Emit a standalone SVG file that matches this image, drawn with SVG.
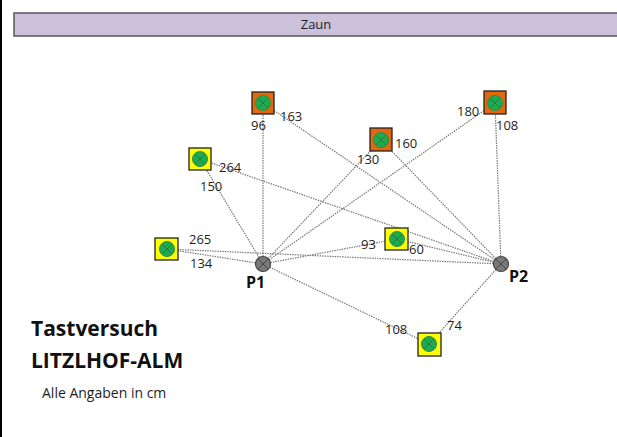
<svg xmlns="http://www.w3.org/2000/svg" width="617" height="437" viewBox="0 0 617 437">
  <style>
    .lbl { font-family: "Open Sans", "Liberation Sans", sans-serif; font-size: 13px; fill: #1e1e1e; }
    .bold { font-family: "Open Sans", "Liberation Sans", sans-serif; font-weight: bold; fill: #111; }
    .conn line { stroke: #7a7a7a; stroke-width: 1.2; stroke-dasharray: 1.5 1; }
    .orange { fill: #e2680f; stroke: #222; stroke-width: 1.3; }
    .yellow { fill: #ffff00; stroke: #222; stroke-width: 1.3; }
  </style>
  <defs>
    <g id="probe">
      <circle r="7.5" fill="#1faa50" stroke="#2e8a46" stroke-width="1"/>
      <path d="M-5,-5 L5,5 M5,-5 L-5,5" stroke="#1f7a3c" stroke-width="0.9"/>
    </g>
    <g id="station">
      <circle r="7.5" fill="#7a7a7a" stroke="#444" stroke-width="1.2"/>
      <path d="M-5,-5 L5,5 M5,-5 L-5,5" stroke="#444" stroke-width="1"/>
    </g>
  </defs>

  <rect width="617" height="437" fill="#fff"/>
  <line x1="1" y1="0" x2="1" y2="437" stroke="#000" stroke-width="2"/>

  <g id="zaun">
    <rect x="14" y="13" width="610" height="23" fill="#ccc1da" stroke="#555" stroke-width="1.5"/>
    <text class="lbl" x="316" y="29" text-anchor="middle">Zaun</text>
  </g>

  <g class="conn" id="connectors">
    <line x1="263" y1="264" x2="263" y2="103"/>
    <line x1="501" y1="264" x2="263" y2="103"/>
    <line x1="263" y1="264" x2="200" y2="159"/>
    <line x1="501" y1="264" x2="200" y2="159"/>
    <line x1="263" y1="264" x2="381" y2="140"/>
    <line x1="501" y1="264" x2="381" y2="140"/>
    <line x1="263" y1="264" x2="495" y2="103"/>
    <line x1="501" y1="264" x2="495" y2="103"/>
    <line x1="263" y1="264" x2="167" y2="249"/>
    <line x1="501" y1="264" x2="167" y2="249"/>
    <line x1="263" y1="264" x2="397" y2="239"/>
    <line x1="501" y1="264" x2="397" y2="239"/>
    <line x1="263" y1="264" x2="429" y2="344"/>
    <line x1="501" y1="264" x2="429" y2="344"/>
  </g>

  <g id="node-a">
    <rect class="orange" x="252" y="92" width="22" height="22"/>
    <use href="#probe" x="263" y="103"/>
    <text class="lbl" x="251" y="130">96</text>
    <text class="lbl" x="280" y="121">163</text>
  </g>
  <g id="node-b">
    <rect class="yellow" x="189" y="148" width="22" height="22"/>
    <use href="#probe" x="200" y="159"/>
    <text class="lbl" x="219" y="172">264</text>
    <text class="lbl" x="200" y="191">150</text>
  </g>
  <g id="node-c">
    <rect class="orange" x="370" y="128" width="22" height="23"/>
    <use href="#probe" x="381" y="140"/>
    <text class="lbl" x="395" y="148">160</text>
    <text class="lbl" x="357" y="164">130</text>
  </g>
  <g id="node-d">
    <rect class="orange" x="484" y="91" width="22" height="23"/>
    <use href="#probe" x="495" y="103"/>
    <text class="lbl" x="457" y="116">180</text>
    <text class="lbl" x="496" y="130">108</text>
  </g>
  <g id="node-e">
    <rect class="yellow" x="155" y="238" width="23" height="22"/>
    <use href="#probe" x="167" y="249"/>
    <text class="lbl" x="189" y="244">265</text>
    <text class="lbl" x="190" y="268">134</text>
  </g>
  <g id="node-f">
    <rect class="yellow" x="385" y="228" width="23" height="22"/>
    <use href="#probe" x="397" y="239"/>
    <text class="lbl" x="361" y="249">93</text>
    <text class="lbl" x="409" y="254">60</text>
  </g>
  <g id="node-g">
    <rect class="yellow" x="418" y="333" width="23" height="23"/>
    <use href="#probe" x="429" y="344"/>
    <text class="lbl" x="385" y="334">108</text>
    <text class="lbl" x="447" y="330">74</text>
  </g>

  <g id="p1">
    <use href="#station" x="263" y="264"/>
    <text class="bold" x="246" y="288" font-size="16">P1</text>
  </g>
  <g id="p2">
    <use href="#station" x="501" y="264"/>
    <text class="bold" x="509" y="282" font-size="16">P2</text>
  </g>

  <g id="title">
    <text class="bold" x="31" y="336" font-size="21">Tastversuch</text>
    <text class="bold" x="31" y="368" font-size="21">LITZLHOF-ALM</text>
    <text class="lbl" x="42" y="398" font-size="14" style="font-size:14px">Alle Angaben in cm</text>
  </g>
</svg>
